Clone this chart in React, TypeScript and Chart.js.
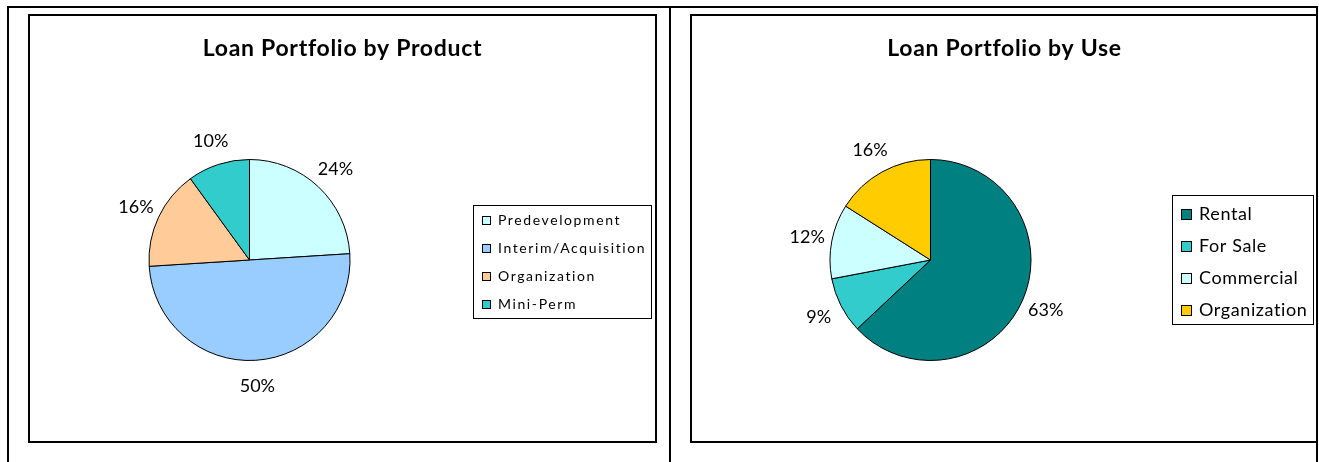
import React, { useEffect, useRef } from "react";
import { Chart, registerables } from "chart.js";

Chart.register(...registerables);

// ---------- data ----------
const productTitle = "Loan Portfolio by Product";
const productLabels = ["Predevelopment", "Interim/Acquisition", "Organization", "Mini-Perm"];
const productValues = [24, 50, 16, 10];
const productColors = ["#CCFFFF", "#99CCFF", "#FFCC99", "#33CCCC"];

const useTitle = "Loan Portfolio by Use";
const useLabels = ["Rental", "For Sale", "Commercial", "Organization"];
const useValues = [63, 9, 12, 16];
const useColors = ["#008080", "#33CCCC", "#CCFFFF", "#FFCC00"];

const FONT = "Lato, 'Open Sans', sans-serif";
const CAP = 0.7165;

type LegendCfg = {
  x: number; y: number; w: number; h: number;
  boxX: number; box: number; textX: number;
  firstY: number; rowH: number; size: number; spacing: string;
};

type DecorOpts = {
  title: string; titleY: number; titleSize: number; titleSpacing: string;
  labelSize: number; labelGap: number;
  legend: LegendCfg;
};

const decorPlugin = {
  id: "decor",
  afterDraw(chart: any, _args: any, opts: DecorOpts) {
    const ctx: CanvasRenderingContext2D = chart.ctx;
    const meta = chart.getDatasetMeta(0);
    const ds = chart.data.datasets[0];
    const values = ds.data as number[];
    const colors = ds.backgroundColor as string[];
    const total = values.reduce((a, b) => a + b, 0);
    ctx.save();

    // title
    ctx.fillStyle = "#000";
    ctx.textAlign = "center";
    ctx.textBaseline = "alphabetic";
    ctx.font = `bold ${opts.titleSize}px ${FONT}`;
    (ctx as any).letterSpacing = opts.titleSpacing;
    ctx.fillText(opts.title, chart.width / 2, opts.titleY + (opts.titleSize * CAP) / 2);
    (ctx as any).letterSpacing = "0px";

    // percentage labels outside slices
    ctx.font = `${opts.labelSize}px ${FONT}`;
    meta.data.forEach((arc: any, i: number) => {
      const p = arc.getProps(["x", "y", "startAngle", "endAngle", "outerRadius"], true);
      const mid = (p.startAngle + p.endAngle) / 2;
      const d = p.outerRadius + opts.labelGap;
      const lx = p.x + Math.cos(mid) * d;
      const ly = p.y + Math.sin(mid) * d;
      const pct = Math.round((values[i] / total) * 100) + "%";
      ctx.fillText(pct, lx, ly + (opts.labelSize * CAP) / 2);
    });

    // legend
    const L = opts.legend;
    ctx.lineWidth = 1;
    ctx.strokeStyle = "#000";
    ctx.strokeRect(L.x + 0.5, L.y + 0.5, L.w, L.h);
    ctx.font = `${L.size}px ${FONT}`;
    ctx.textAlign = "left";
    (ctx as any).letterSpacing = L.spacing;
    (chart.data.labels as string[]).forEach((lab, i) => {
      const cy = L.firstY + i * L.rowH;
      const top = Math.round(cy - L.box / 2);
      ctx.fillStyle = colors[i];
      ctx.fillRect(L.boxX, top, L.box, L.box);
      ctx.strokeStyle = "#000";
      ctx.strokeRect(L.boxX + 0.5, top + 0.5, L.box - 1, L.box - 1);
      ctx.fillStyle = "#000";
      ctx.fillText(lab, L.textX, cy + (L.size * CAP) / 2);
    });
    (ctx as any).letterSpacing = "0px";
    ctx.restore();
  },
};

type PieProps = {
  labels: string[];
  values: number[];
  colors: string[];
  padding: { left: number; right: number; top: number; bottom: number };
  decor: DecorOpts;
};

const CANVAS_W = 625;
const CANVAS_H = 425;

function PieChart({ labels, values, colors, padding, decor }: PieProps) {
  const ref = useRef<HTMLCanvasElement | null>(null);
  useEffect(() => {
    if (!ref.current) return;
    const chart = new Chart(ref.current, {
      type: "pie",
      data: {
        labels,
        datasets: [
          {
            data: values,
            backgroundColor: colors,
            borderColor: "#000",
            borderWidth: 1,
          },
        ],
      },
      options: {
        responsive: false,
        animation: false,
        events: [],
        layout: { padding },
        plugins: {
          legend: { display: false },
          title: { display: false },
          tooltip: { enabled: false },
          decor: decor as any,
        } as any,
      },
      plugins: [decorPlugin as any],
    });
    return () => chart.destroy();
  }, []);
  return <canvas ref={ref} width={CANVAS_W} height={CANVAS_H} style={{ display: "block" }} />;
}

const boxStyle = (left: number): React.CSSProperties => ({
  position: "absolute",
  left,
  top: 14,
  width: 629,
  height: 429,
  border: "2px solid #000",
  boxSizing: "border-box",
  background: "#fff",
});

export default function App() {
  return (
    <div
      style={{
        position: "absolute",
        left: 0,
        top: 0,
        width: 1319,
        height: 462,
        overflow: "hidden",
        background: "#fff",
      }}
    >
      <div style={boxStyle(28)}>
        <PieChart
          labels={productLabels}
          values={productValues}
          colors={productColors}
          padding={{ left: 118, right: 304, top: 143, bottom: 80 }}
          decor={{
            title: productTitle,
            titleY: 32,
            titleSize: 23,
            titleSpacing: "0.7px",
            labelSize: 18,
            labelGap: 25,
            legend: {
              x: 443, y: 189, w: 178, h: 113,
              boxX: 452, box: 9, textX: 468,
              firstY: 204, rowH: 28, size: 14, spacing: "1.6px",
            },
          }}
        />
      </div>
      <div style={{ position: "absolute", left: 0, top: 0, width: 1316, height: 462, overflow: "hidden" }}>
        <div style={boxStyle(690)}>
          <PieChart
            labels={useLabels}
            values={useValues}
            colors={useColors}
            padding={{ left: 137, right: 285, top: 143, bottom: 80 }}
            decor={{
              title: useTitle,
              titleY: 32,
              titleSize: 23,
              titleSpacing: "0.7px",
              labelSize: 18,
              labelGap: 25,
              legend: {
                x: 480, y: 179, w: 141, h: 129,
                boxX: 489, box: 11, textX: 507,
                firstY: 198, rowH: 32, size: 18, spacing: "0.6px",
              },
            }}
          />
        </div>
      </div>
      {/* table grid lines */}
      <div
        style={{
          position: "absolute",
          left: 7,
          top: 6,
          width: 1311,
          height: 470,
          borderTop: "2px solid #000",
          borderLeft: "2px solid #000",
          borderRight: "2px solid #000",
          boxSizing: "border-box",
        }}
      />
      <div style={{ position: "absolute", left: 669, top: 6, width: 2, height: 470, background: "#000" }} />
    </div>
  );
}
